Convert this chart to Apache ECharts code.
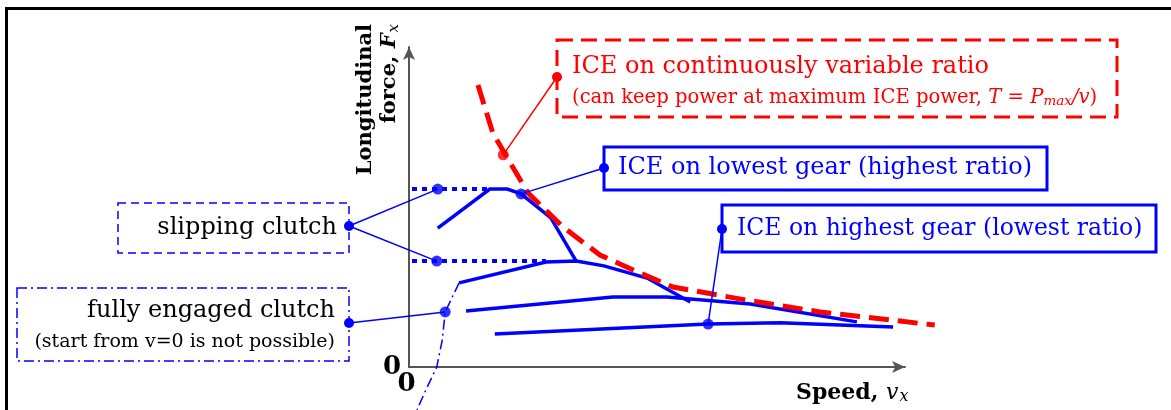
<!DOCTYPE html>
<html>
<head>
<meta charset="utf-8">
<script src="https://cdn.jsdelivr.net/npm/echarts@6/dist/echarts.min.js"></script>
<style>
html, body { margin: 0; padding: 0; background: #fff; }
#chart { width: 1171px; height: 410px; }
</style>
</head>
<body>
<div id="chart"></div>
<script>
// speed (x) and force (y) readings, in axis units (axis arrow = 100)
var cvtSpeed = [13.9, 16.9, 20.4, 24.0, 31.0, 38.5, 45.2, 53.2, 68.1, 82.9, 106];
var cvtForce = [88.1, 73.1, 63.8, 54.4, 43.8, 35.0, 30.3, 25.0, 20.9, 17.2, 13.1];

var gear1Speed = [5.8, 16.3, 19.8, 22.6, 28.6, 33.7];
var gear1Force = [43.4, 55.6, 55.6, 54.1, 46.6, 33.1];
var gear2Speed = [10.1, 27.6, 33.7, 39.3, 48.0, 56.7];
var gear2Force = [26.3, 32.8, 33.1, 31.6, 27.8, 20.3];
var gear3Speed = [11.5, 41.1, 52.0, 68.8, 90.3];
var gear3Force = [17.5, 21.9, 21.9, 19.7, 14.1];
var gear4Speed = [17.3, 60.3, 74.8, 97.6];
var gear4Force = [10.3, 13.4, 13.8, 12.5];

// slipping clutch levels (dotted) and fully engaged clutch (dash-dot)
var slipHighSpeed = [0.6, 16.3];
var slipHighForce = [55.6, 55.6];
var slipLowSpeed = [0.6, 27.6];
var slipLowForce = [33.1, 33.1];
var engagedSpeed = [10.1, 7.3, 6.7, 5.6, 3.6, 1.6];
var engagedForce = [26.3, 17.2, 8.4, 0, -6.5, -13.4];

var tickLabels = [0];

// annotated points on the curves
var noteCvt = [19.0, 66.3];
var noteGear1 = [22.6, 54.1];
var noteGear4 = [60.3, 13.4];
var noteSlipHigh = [5.8, 55.6];
var noteSlipLow = [5.6, 33.1];
var noteEngaged = [7.3, 17.2];

var BLUE = '#0000ff';
var RED = '#ff0000';
var SERIF = '"DejaVu Serif", "Liberation Serif", serif';

function zip(xs, ys) {
    return xs.map(function (x, i) { return [x, ys[i]]; });
}

function curve(xs, ys, color, width, type) {
    return {
        type: 'line',
        xAxisIndex: 1,
        yAxisIndex: 1,
        data: zip(xs, ys),
        symbol: 'none',
        silent: true,
        clip: false,
        lineStyle: { color: color, width: width, type: type || 'solid', cap: 'butt', join: 'miter' }
    };
}

var myChart = echarts.init(document.getElementById('chart'));

// grid 0 only draws the two arrows, grid 1 (same scale, larger) holds the curves
var option = {
    animation: false,
    grid: [
        { left: 409, right: 266, top: 47, bottom: 43 },
        { left: 409, right: 1171 - 409 - 110 * 4.96, top: 15, bottom: 0 }
    ],
    xAxis: [{
        type: 'value', min: 0, max: 100, gridIndex: 0,
        splitLine: { show: false },
        axisTick: { show: false },
        axisLine: { lineStyle: { color: '#555', width: 2 }, symbol: ['none', 'arrow'], symbolSize: [9, 13] },
        axisLabel: {
            customValues: tickLabels, color: '#000', fontFamily: SERIF, fontWeight: 'bold',
            fontSize: 26, margin: 4, padding: [0, 5, 0, 0]
        }
    }, {
        type: 'value', min: 0, max: 110, gridIndex: 1, show: false
    }],
    yAxis: [{
        type: 'value', min: 0, max: 100, gridIndex: 0,
        splitLine: { show: false },
        axisTick: { show: false },
        axisLine: { lineStyle: { color: '#555', width: 2 }, symbol: ['none', 'arrow'], symbolSize: [9, 13] },
        axisLabel: {
            customValues: tickLabels, color: '#000', fontFamily: SERIF, fontWeight: 'bold',
            fontSize: 26, margin: 8, padding: [0, 0, 8, 0]
        }
    }, {
        type: 'value', min: -43 / 3.2, max: 110, gridIndex: 1, show: false
    }],
    series: [
        curve(slipHighSpeed, slipHighForce, BLUE, 4, [5, 5]),
        curve(slipLowSpeed, slipLowForce, BLUE, 4, [5, 5]),
        curve(engagedSpeed, engagedForce, BLUE, 1.5, [10, 4, 2, 4]),
        curve(gear1Speed, gear1Force, BLUE, 3.5),
        curve(gear2Speed, gear2Force, BLUE, 3.5),
        curve(gear3Speed, gear3Force, BLUE, 3.5),
        curve(gear4Speed, gear4Force, BLUE, 3.5),
        curve(cvtSpeed, cvtForce, RED, 5, [20, 9]),
        {
            type: 'scatter', xAxisIndex: 1, yAxisIndex: 1,
            data: [noteGear1, noteGear4, noteSlipHigh, noteSlipLow, noteEngaged],
            symbolSize: 11,
            itemStyle: { color: BLUE },
            silent: true,
            z: 5
        },
        {
            type: 'scatter', xAxisIndex: 1, yAxisIndex: 1,
            data: [noteCvt],
            symbolSize: 11,
            itemStyle: { color: RED },
            silent: true,
            z: 5
        }
    ]
};
myChart.setOption(option);

function px(p) { return myChart.convertToPixel({ gridIndex: 1 }, p); }

function leader(from, to, color) {
    var a = px(from);
    return {
        type: 'line', z: 4,
        shape: { x1: a[0], y1: a[1], x2: to[0], y2: to[1] },
        style: { stroke: color, lineWidth: 1.5 }
    };
}
function dot(p, color) {
    return { type: 'circle', z: 6, shape: { cx: p[0], cy: p[1], r: 5 }, style: { fill: color } };
}
function box(x, y, w, h, color, width, dash) {
    return {
        type: 'rect', z: 3,
        shape: { x: x, y: y, width: w, height: h },
        style: { fill: '#fff', stroke: color, lineWidth: width, lineDash: dash || null }
    };
}
function label(text, x, y, size, color, align, extra) {
    var st = {
        text: text, x: x, y: y, fill: color, align: align || 'left', verticalAlign: 'middle',
        fontFamily: SERIF, fontSize: size
    };
    if (extra) for (var k in extra) st[k] = extra[k];
    return { type: 'text', z: 7, style: st };
}

var graphics = [
    // frame
    { type: 'line', shape: { x1: 6, y1: 8.5, x2: 1171, y2: 8.5 }, style: { stroke: '#000', lineWidth: 3 } },
    { type: 'line', shape: { x1: 6.5, y1: 7, x2: 6.5, y2: 410 }, style: { stroke: '#000', lineWidth: 3 } },

    // axis titles
    {
        type: 'text', rotation: Math.PI / 2, x: 378, y: 24,
        style: {
            text: 'Longitudinal\nforce, {i|F}{s|x}', align: 'right', verticalAlign: 'middle',
            fontFamily: SERIF, fontSize: 21, fontWeight: 'bold', fill: '#000', lineHeight: 24,
            rich: {
                i: { fontFamily: SERIF, fontSize: 21, fontStyle: 'italic', fontWeight: 'bold', fill: '#000' },
                s: { fontFamily: SERIF, fontSize: 15, fontStyle: 'italic', fill: '#000', verticalAlign: 'bottom', padding: [0, 0, 0, 1] }
            }
        }
    },
    {
        type: 'text', x: 796, y: 393,
        style: {
            text: 'Speed, {i|v}{s|x}', align: 'left', verticalAlign: 'middle',
            fontFamily: SERIF, fontSize: 22, fontWeight: 'bold', fill: '#000',
            rich: {
                i: { fontFamily: SERIF, fontSize: 22, fontStyle: 'italic', fill: '#000' },
                s: { fontFamily: SERIF, fontSize: 16, fontStyle: 'italic', fill: '#000', verticalAlign: 'bottom', padding: [8, 0, 0, 1] }
            }
        }
    },

    // red annotation
    leader(noteCvt, [557, 77], RED),
    box(557, 40, 560, 77, RED, 3, [16, 8]),
    dot([557, 77], RED),
    label('ICE on continuously variable ratio', 572, 67, 24, RED),
    label('(can keep power at maximum ICE power, {i|T} = {i|P}{s|max}{i|/v})', 572, 98, 19.6, RED, 'left', {
        rich: {
            i: { fontFamily: SERIF, fontSize: 19.6, fontStyle: 'italic', fill: RED },
            s: { fontFamily: SERIF, fontSize: 13.5, fontStyle: 'italic', fill: RED, verticalAlign: 'bottom', padding: [6, 0, 0, 0] }
        }
    }),

    // lowest gear
    leader(noteGear1, [604, 168], BLUE),
    box(604, 147, 443, 43, BLUE, 3),
    dot([604, 168], BLUE),
    label('ICE on lowest gear (highest ratio)', 618, 168, 24, BLUE),

    // highest gear
    leader(noteGear4, [722, 229], BLUE),
    box(722, 205, 434, 47, BLUE, 3),
    dot([722, 229], BLUE),
    label('ICE on highest gear (lowest ratio)', 737, 229, 23.5, BLUE),

    // slipping clutch
    leader(noteSlipHigh, [349, 226], BLUE),
    leader(noteSlipLow, [349, 226], BLUE),
    box(118, 203, 231, 50, BLUE, 1.5, [8, 5]),
    dot([349, 226], BLUE),
    label('slipping clutch', 337, 228, 24, '#000', 'right'),

    // fully engaged clutch
    leader(noteEngaged, [349, 323], BLUE),
    box(17, 288, 332, 73, BLUE, 1.5, [10, 4, 2, 4]),
    dot([349, 323], BLUE),
    label('fully engaged clutch', 335, 311, 24, '#000', 'right'),
    label('(start from v=0 is not possible)', 335, 342, 19, '#000', 'right')
];

myChart.setOption({ graphic: graphics });
</script>
</body>
</html>
